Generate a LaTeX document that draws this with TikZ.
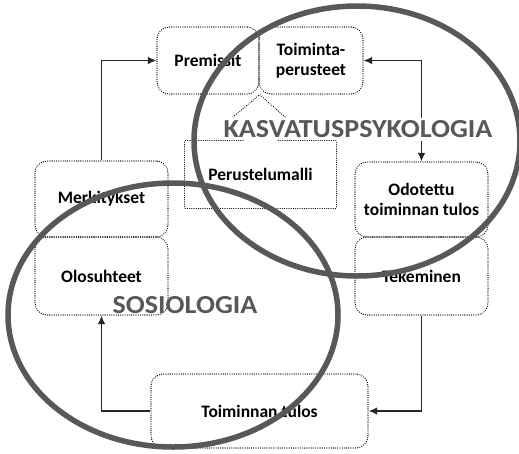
\documentclass[tikz,border=0pt]{standalone}
\usepackage{fontspec}
\setmainfont{Carlito}
\newfontfamily\bigfont{Carlito}[FakeStretch=1.08]
\usetikzlibrary{arrows.meta}
\definecolor{ellgray}{RGB}{88,88,88}
\begin{document}
\begin{tikzpicture}[x=1pt,y=-1pt,
  dotline/.style={draw=black, line width=1.3pt, line cap=round, dash pattern=on 0.01pt off 2.2pt},
  boxr/.style={dotline, rounded corners=12pt, inner sep=0pt, align=center, font=\bfseries\fontsize{17.5}{19.5}\selectfont},
  plainlbl/.style={inner sep=0pt, align=center, font=\bfseries\fontsize{17.5}{19.5}\selectfont},
  conn/.style={line width=1.2pt, draw=black!85, -{Latex[length=8.5pt,width=7.5pt]}},
  conn2/.style={line width=1.2pt, draw=black!85, {Latex[length=8.5pt,width=7.5pt]}-{Latex[length=8.5pt,width=7.5pt]}},
  biglabel/.style={text=ellgray, font=\bigfont\bfseries\fontsize{26}{28}\selectfont, inner sep=0pt},
  ring/.style={draw=ellgray, line width=5.5pt}]
\path[use as bounding box, fill=white] (0,0) rectangle (519,453);

% boxes
\node[boxr, minimum width=102pt, minimum height=67pt] (prem) at (208,60.5) {Premissit};
\node[boxr, minimum width=104pt, minimum height=67pt] (toim) at (311,60.5) {Toiminta-\\perusteet};
\node[boxr, minimum width=133pt, minimum height=76pt] (merk) at (101.5,199) {Merkitykset};
\node[boxr, minimum width=133pt, minimum height=78pt] (olos) at (101.5,276) {Olosuhteet};
\node[boxr, minimum width=133pt, minimum height=75pt] (odot) at (421.5,199.5) {Odotettu\\toiminnan tulos};
\node[boxr, minimum width=133pt, minimum height=78pt] (teke) at (421.5,276) {Tekeminen};
\node[boxr, minimum width=217pt, minimum height=74pt] (tulos) at (259.5,411) {Toiminnan tulos};
\node[plainlbl, minimum width=151pt, minimum height=67pt] (perus) at (260.5,174.5) {Perustelumalli};

% pointer lines
\coordinate (pl) at (233,117);
\coordinate (pr) at (285,117);
\draw[dotline] (pl) -- (prem.south east) -- (pr);

% connectors
\draw[conn] (tulos.west) -| (olos.south);
\draw[conn] (teke.south) |- (tulos.east);
\draw[conn] (merk.north) |- (prem.west);
\draw[conn2] (toim.east) -| (odot.north);

% label with white backing
\node[biglabel, fill=white, minimum height=23pt] (kasv) at (358,129.5) {KASVATUSPSYKOLOGIA};

% Perustelumalli frame
\draw[dotline] ([xshift=-17.5pt]perus.north) -- (perus.north west) -- (perus.south west) -- (perus.south east) -- (perus.north east) -- ([xshift=16.5pt]perus.north);

% ellipses
\draw[ring] (357,141) ellipse [x radius=163pt, y radius=135pt];
\draw[ring] (173,315) ellipse [x radius=165pt, y radius=132pt];

\node[biglabel] (sos) at (185,305) {SOSIOLOGIA};
\end{tikzpicture}
\end{document}
